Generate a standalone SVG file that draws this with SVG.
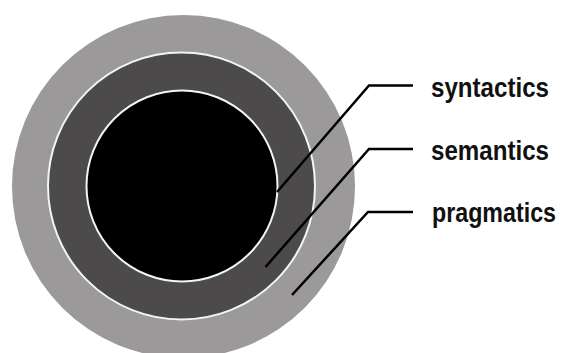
<svg xmlns="http://www.w3.org/2000/svg" width="565" height="353" viewBox="0 0 565 353">
  <style>
    .lbl { font-family: "Liberation Sans", Arial, sans-serif; font-weight: bold; font-size: 24px; fill: #111; }
    .ring { stroke: #eef6f6; stroke-width: 2; }
    .conn { fill: none; stroke: #000; stroke-width: 2.5; stroke-linejoin: miter; }
  </style>
  <rect width="565" height="353" fill="#ffffff"/>
  <g id="pragmatics-circle">
    <circle cx="183.5" cy="186.5" r="171.5" fill="#9b9999"/>
  </g>
  <g id="semantics-circle">
    <circle cx="181.5" cy="186" r="133.5" fill="#4c4a4a" class="ring"/>
  </g>
  <g id="syntactics-circle">
    <circle cx="182" cy="186" r="95.5" fill="#000000" class="ring"/>
  </g>
  <g id="connectors">
    <polyline class="conn" points="413,85.5 369,85.5 277,192"/>
    <polyline class="conn" points="413,149 369,149 265.5,267"/>
    <polyline class="conn" points="413,212 368,212 292,295"/>
  </g>
  <g id="label-syntactics" transform="translate(431,97) scale(1,1.12)">
    <text class="lbl" x="0" y="0" textLength="118" lengthAdjust="spacingAndGlyphs">syntactics</text>
  </g>
  <g id="label-semantics" transform="translate(431,160) scale(1,1.12)">
    <text class="lbl" x="0" y="0" textLength="118" lengthAdjust="spacingAndGlyphs">semantics</text>
  </g>
  <g id="label-pragmatics" transform="translate(432,222) scale(1,1.12)">
    <text class="lbl" x="0" y="0" textLength="124" lengthAdjust="spacingAndGlyphs">pragmatics</text>
  </g>
</svg>
